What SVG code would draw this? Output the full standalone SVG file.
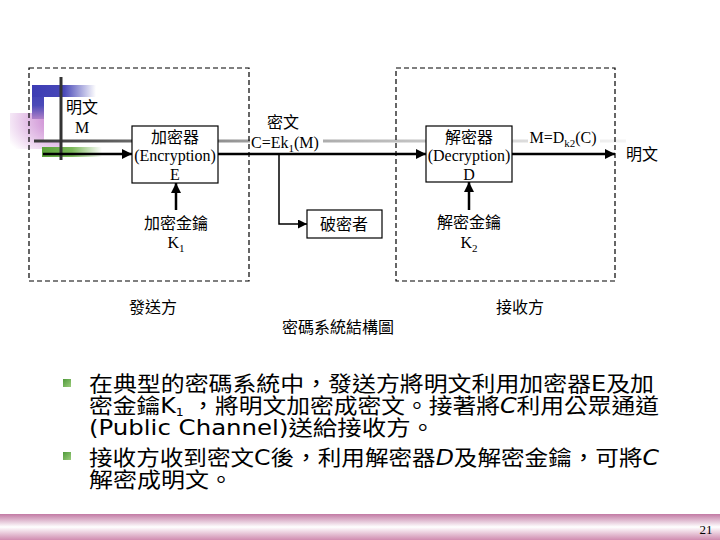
<svg xmlns="http://www.w3.org/2000/svg" width="720" height="540" viewBox="0 0 720 540">
<defs>
<style>
.lbl{font-family:"Liberation Serif","Noto Sans CJK TC",serif;font-size:16px;fill:#000;text-anchor:middle}
.body{font-family:"DejaVu Sans","Noto Sans CJK TC",sans-serif;font-size:21px;fill:#000}
.dash{fill:none;stroke:#000;stroke-width:1.2;stroke-dasharray:5 3}
.box{fill:#fff;stroke:#000;stroke-width:1.2}
.arr{fill:none;stroke:#000;stroke-width:2.5}
.thin{fill:none;stroke:#000;stroke-width:1.5}
</style>
<marker id="ah" viewBox="0 0 10 10" refX="10" refY="5" markerWidth="4" markerHeight="4" orient="auto" markerUnits="strokeWidth">
<path d="M0,0 L10,5 L0,10 z" fill="#000"/>
</marker>
<marker id="ah2" viewBox="0 0 10 10" refX="10" refY="5" markerWidth="6" markerHeight="6" orient="auto" markerUnits="strokeWidth">
<path d="M0,0 L10,5 L0,10 z" fill="#000"/>
</marker>
<linearGradient id="gline" x1="0" y1="0" x2="1" y2="0">
<stop offset="0" stop-color="#3a3a3a"/>
<stop offset="0.35" stop-color="#9a9a9a"/>
<stop offset="1" stop-color="#f4f4f4"/>
</linearGradient>
<linearGradient id="gblue" x1="0" y1="0" x2="1" y2="0">
<stop offset="0" stop-color="#3c3cb4"/>
<stop offset="0.5" stop-color="#4848b8"/>
<stop offset="1" stop-color="#ffffff"/>
</linearGradient>
<linearGradient id="gblueV" x1="0" y1="0" x2="0" y2="1">
<stop offset="0" stop-color="#3c3cb4"/>
<stop offset="0.6" stop-color="#4a4ab8"/>
<stop offset="1" stop-color="#b080c8"/>
</linearGradient>
<radialGradient id="gpink" cx="1" cy="0.2" r="1.2">
<stop offset="0" stop-color="#c070c8"/>
<stop offset="0.5" stop-color="#e0b8e4"/>
<stop offset="1" stop-color="#ffffff"/>
</radialGradient>
<linearGradient id="ggreen" x1="0" y1="0" x2="1" y2="0">
<stop offset="0" stop-color="#5aa038"/>
<stop offset="0.5" stop-color="#7ab858"/>
<stop offset="1" stop-color="#ffffff"/>
</linearGradient>
<linearGradient id="gfoot" x1="0" y1="0" x2="0" y2="1">
<stop offset="0" stop-color="#c27aa4"/>
<stop offset="0.5" stop-color="#ffffff"/>
<stop offset="1" stop-color="#d08cb0"/>
</linearGradient>
<linearGradient id="gbul" x1="0" y1="0" x2="1" y2="1">
<stop offset="0" stop-color="#4e9a3a"/>
<stop offset="1" stop-color="#9ccc7c"/>
</linearGradient>
</defs>
<rect width="720" height="540" fill="#fff"/>

<!-- title decoration -->
<g id="decoration">
<rect x="10" y="113" width="52" height="36" fill="url(#gpink)"/>
<rect x="32" y="85" width="12" height="34" fill="url(#gblueV)"/>
<rect x="32" y="85" width="64" height="12" fill="url(#gblue)"/>
<rect x="42" y="147" width="60" height="10" fill="url(#ggreen)"/>
<rect x="44" y="97" width="74" height="44" fill="#fff"/>
<rect x="34" y="139.5" width="592" height="3" fill="url(#gline)"/>
<line x1="61" y1="77" x2="61" y2="160" stroke="#333" stroke-width="3"/>
</g>

<!-- dashed regions -->
<g id="sender">
<rect class="dash" x="29" y="68" width="220" height="213"/>
<text class="lbl" x="153" y="313">發送方</text>
</g>
<g id="receiver">
<rect class="dash" x="396" y="68" width="219" height="213"/>
<text class="lbl" x="520" y="313">接收方</text>
</g>

<!-- connectors -->
<g id="connectors">
<line class="arr" x1="43" y1="154" x2="132" y2="154" marker-end="url(#ah)"/>
<line class="arr" x1="218" y1="154" x2="426" y2="154" marker-end="url(#ah)"/>
<line class="arr" x1="512" y1="154" x2="615" y2="154" marker-end="url(#ah)"/>
<line class="arr" x1="176" y1="210" x2="176" y2="183" marker-end="url(#ah)"/>
<line class="arr" x1="469" y1="210" x2="469" y2="182" marker-end="url(#ah)"/>
<polyline class="thin" points="279,154 279,224 307,224" marker-end="url(#ah2)"/>
</g>

<g id="plaintext-in">
<text class="lbl" x="82" y="113">明文</text>
<text class="lbl" x="82" y="133">M</text>
</g>

<g id="encryptor">
<rect class="box" x="132" y="126" width="86" height="57"/>
<text class="lbl" x="175" y="143">加密器</text>
<text class="lbl" x="175" y="161">(Encryption)</text>
<text class="lbl" x="175" y="180">E</text>
</g>

<g id="ciphertext">
<rect x="250" y="106" width="73" height="46" fill="#fff"/>
<text class="lbl" x="283" y="128">密文</text>
<text class="lbl" x="285" y="148">C=Ek<tspan font-size="11" dy="4">1</tspan><tspan dy="-4">(M)</tspan></text>
</g>

<g id="decryptor">
<rect class="box" x="426" y="126" width="86" height="56"/>
<text class="lbl" x="469" y="143">解密器</text>
<text class="lbl" x="469" y="161">(Decryption)</text>
<text class="lbl" x="469" y="180">D</text>
</g>

<g id="plain-result">
<rect x="528" y="126" width="72" height="24" fill="#fff"/>
<text class="lbl" x="563" y="143">M=D<tspan font-size="11" dy="4">k2</tspan><tspan dy="-4">(C)</tspan></text>
</g>

<g id="plaintext-out">
<text class="lbl" x="642" y="160">明文</text>
</g>

<g id="enc-key">
<text class="lbl" x="176" y="229">加密金鑰</text>
<text class="lbl" x="176" y="248">K<tspan font-size="11" dy="4">1</tspan></text>
</g>

<g id="dec-key">
<text class="lbl" x="469" y="228">解密金鑰</text>
<text class="lbl" x="469" y="248">K<tspan font-size="11" dy="4">2</tspan></text>
</g>

<g id="attacker">
<rect class="box" x="307" y="210" width="75" height="28"/>
<text class="lbl" x="344" y="230">破密者</text>
</g>

<g id="caption">
<text class="lbl" x="338" y="333" font-size="17">密碼系統結構圖</text>
</g>

<!-- bullet text -->
<g id="bullets">
<rect x="63" y="379" width="8" height="8" fill="url(#gbul)"/>
<rect x="63" y="452" width="8" height="8" fill="url(#gbul)"/>
<text class="body" x="89" y="391" textLength="565" lengthAdjust="spacingAndGlyphs">在典型的密碼系統中，發送方將明文利用加密器E及加</text>
<text class="body" x="89" y="413" textLength="570" lengthAdjust="spacingAndGlyphs">密金鑰K<tspan font-size="11" dy="3">1</tspan><tspan dy="-3"> ，將明文加密成密文。接著將</tspan><tspan font-style="italic">C</tspan>利用公眾通道</text>
<text class="body" x="89" y="435" textLength="346" lengthAdjust="spacingAndGlyphs">(Public Channel)送給接收方。</text>
<text class="body" x="89" y="465" textLength="570" lengthAdjust="spacingAndGlyphs">接收方收到密文C後，利用解密器<tspan font-style="italic">D</tspan>及解密金鑰，可將<tspan font-style="italic">C</tspan></text>
<text class="body" x="89" y="487" textLength="144" lengthAdjust="spacingAndGlyphs">解密成明文。</text>
</g>

<!-- footer -->
<g id="footer">
<rect x="0" y="514" width="720" height="26" fill="url(#gfoot)"/>
<text x="706" y="534" font-family="Liberation Serif, serif" font-size="13" text-anchor="middle" fill="#000">21</text>
</g>
</svg>
